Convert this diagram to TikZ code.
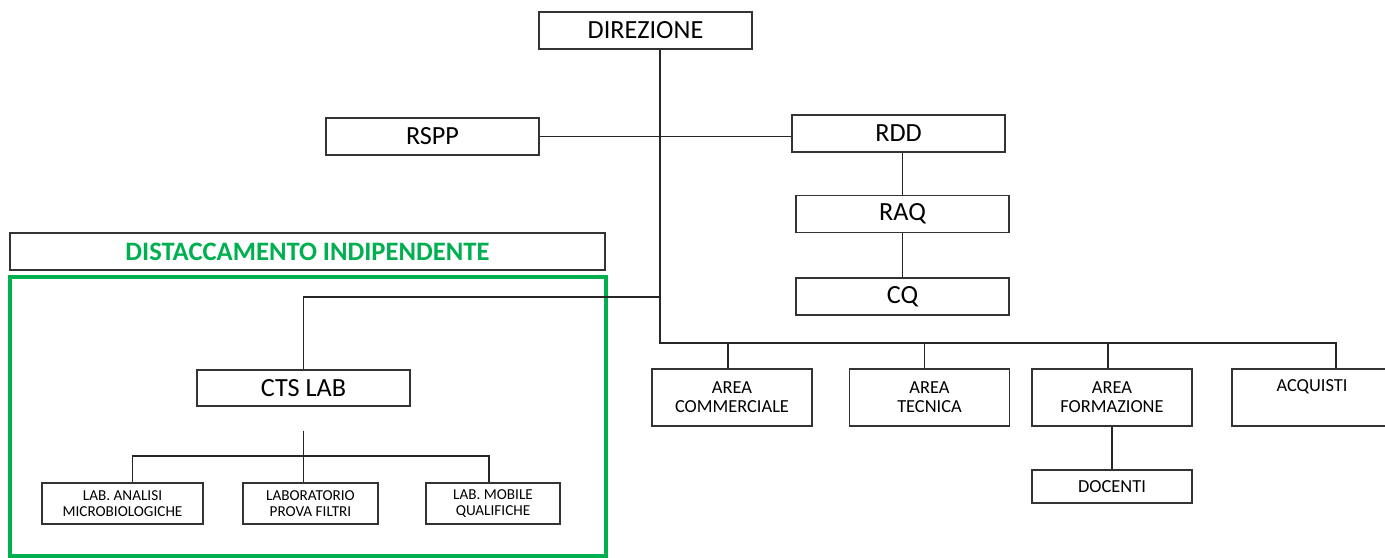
\documentclass[tikz,border=0pt]{standalone}
\usepackage{fontspec}
\setmainfont{Carlito}
\usetikzlibrary{calc}
\definecolor{distgreen}{RGB}{0,176,80}

\begin{document}
\begin{tikzpicture}[x=0.5pt,y=-0.5pt,
  box/.style={draw=black!80, line width=0.7pt, inner sep=0pt, align=center},
  bigbox/.style={box, minimum width=106.5pt, minimum height=18.5pt, font=\fontsize{13.1}{15}\selectfont},
  areabox/.style={box, minimum width=80pt, minimum height=28.5pt, font=\fontsize{9.2}{9.5}\selectfont},
  labbox/.style={box, minimum height=20.5pt, font=\fontsize{7.6}{8}\selectfont},
  link/.style={draw=black!85, line width=0.7pt}]
\useasboundingbox (0,0) rectangle (1385,557);

\node[bigbox] (dir) at (645.5,30.5) {DIREZIONE};
\node[bigbox] (rspp) at (432.5,136.5) {RSPP};
\node[bigbox] (rdd) at (898.5,133.5) {RDD};
\node[bigbox] (raq) at (902.5,214) {RAQ};
\node[bigbox] (cq) at (902.5,296.5) {CQ};

\node[box, minimum width=297.5pt, minimum height=18.5pt, text=distgreen,
  font=\fontsize{13.3}{15}\selectfont\bfseries] (dist) at (307.5,251.5) {DISTACCAMENTO INDIPENDENTE};
\draw[distgreen, line width=2pt] (10,277) rectangle (606,556);

\node[bigbox, minimum height=18pt] (cts) at (303.5,388) {CTS LAB};
\node[labbox, minimum width=80.5pt] (lab1) at (122.5,503.5) {LAB. ANALISI\\MICROBIOLOGICHE};
\node[labbox, minimum width=67.5pt] (lab2) at (310.5,503.5) {LABORATORIO\\PROVA FILTRI};
\node[labbox, minimum width=67pt] (lab3) at (493,503.5) {LAB. MOBILE\\QUALIFICHE};

\node[areabox] (comm) at (732,397.5) {AREA\\COMMERCIALE};
\node[areabox] (tec) at (929.5,397.5) {AREA\\TECNICA};
\node[areabox] (form) at (1112,397.5) {AREA\\FORMAZIONE};
\node[areabox] (acq) at (1312,397.5) {ACQUISTI\\\strut};
\node[areabox, minimum height=16.5pt] (doc) at (1112,486.5) {DOCENTI};

% main trunk
\coordinate (trunk) at (660,343);
\coordinate (ctsjoin) at (660,297);
\coordinate (busend) at (1336,343);
\draw[link] (dir.south -| trunk) -- (trunk) -- (busend) -- (busend |- acq.north);
\draw[link] (rspp.east) -- (rspp.east -| rdd.west);
\draw[link] (raq.north) -- (raq.north |- rdd.south);
\draw[link] (raq.south) -- (cq.north);
\draw[link] (ctsjoin) -| (cts.north);

% areas
\draw[link] ([xshift=-2pt]comm.north) -- ([xshift=-2pt]comm.north |- trunk);
\draw[link] ([xshift=-2.5pt]tec.north) -- ([xshift=-2.5pt]tec.north |- trunk);
\draw[link] ([xshift=-2pt]form.north) -- ([xshift=-2pt]form.north |- trunk);
\draw[link] (form.south) -- (doc.north);

% labs
\coordinate (labbus) at (303.5,456);
\draw[link] ([yshift=-12pt]cts.south) -- (labbus);
\draw[link] ([xshift=5pt]lab1.north) |- (labbus) -| ([xshift=-2pt]lab3.north);
\draw[link] (labbus) -- (labbus |- lab2.north);
\end{tikzpicture}
\end{document}
